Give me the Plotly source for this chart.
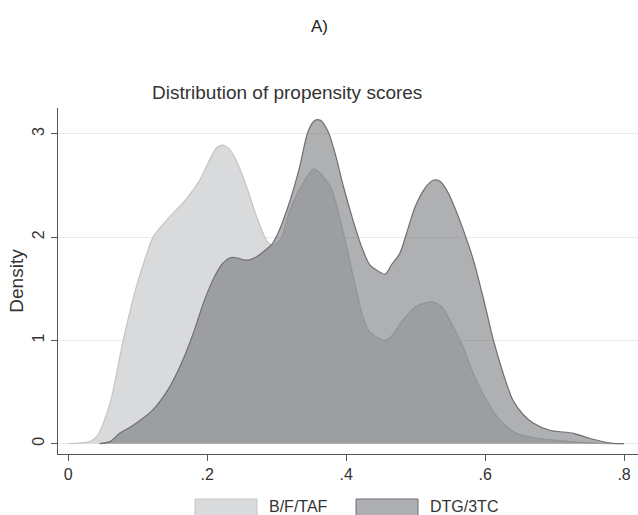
import plotly.graph_objects as go

series_names = ["B/F/TAF", "DTG/3TC"]

bftaf_x = [0.0, 0.031, 0.041, 0.06, 0.079, 0.098, 0.113, 0.122, 0.141, 0.17, 0.189, 0.213, 0.222, 0.232,
           0.242, 0.257, 0.271, 0.285, 0.293, 0.305, 0.319, 0.338, 0.3535, 0.377, 0.396, 0.41, 0.424,
           0.434, 0.456, 0.465, 0.482, 0.501, 0.518, 0.525, 0.537, 0.554, 0.568, 0.583, 0.602, 0.621,
           0.645, 0.669, 0.707, 0.765, 0.80]
bftaf_y = [0.0, 0.02, 0.07, 0.39, 1.0, 1.52, 1.84, 2.0, 2.16, 2.37, 2.55, 2.86, 2.89, 2.85,
           2.74, 2.48, 2.2, 1.97, 1.92, 1.97, 2.26, 2.52, 2.66, 2.49, 2.04, 1.62, 1.23,
           1.08, 1.0, 1.04, 1.2, 1.33, 1.37, 1.37, 1.33, 1.13, 0.94, 0.68, 0.42, 0.23,
           0.1, 0.06, 0.03, 0.003, 0.0]

dtg_x = [0.045, 0.06, 0.074, 0.089, 0.108, 0.122, 0.132, 0.146, 0.163, 0.18, 0.196, 0.213, 0.223, 0.233,
         0.242, 0.252, 0.261, 0.271, 0.283, 0.293, 0.302, 0.319, 0.333, 0.345, 0.355, 0.363, 0.374,
         0.384, 0.396, 0.41, 0.422, 0.434, 0.444, 0.456, 0.465, 0.477, 0.487, 0.499, 0.513, 0.525,
         0.535, 0.545, 0.556, 0.568, 0.583, 0.597, 0.612, 0.626, 0.64, 0.655, 0.669, 0.693, 0.727,
         0.751, 0.784, 0.80]
dtg_y = [0.0, 0.02, 0.1, 0.16, 0.25, 0.33, 0.41, 0.55, 0.78, 1.07, 1.39, 1.65, 1.75, 1.80,
         1.80, 1.78, 1.78, 1.81, 1.87, 1.93, 2.04, 2.35, 2.68, 3.02, 3.13, 3.13, 3.02,
         2.81, 2.49, 2.16, 1.91, 1.73, 1.68, 1.64, 1.73, 1.84, 2.04, 2.29, 2.47, 2.55,
         2.54, 2.45, 2.29, 2.08, 1.78, 1.42, 1.0, 0.68, 0.42, 0.28, 0.2, 0.13, 0.1,
         0.05, 0.003, 0.0]

x_tickvals = [0, 0.2, 0.4, 0.6, 0.8]
x_ticktext = ["0", ".2", ".4", ".6", ".8"]
y_tickvals = [0, 1, 2, 3]
y_ticktext = ["0", "1", "2", "3"]

fill_colors = ["#d9dadc", "rgba(99,100,104,0.51)"]
line_colors = ["#c3c4c6", "#6e6f72"]
legend_box_fill = ["#d9dadc", "#aeafb2"]
legend_box_line = ["#c3c4c6", "#6e6f72"]

fig = go.Figure()
for xs, ys, name, fc, lc in [(bftaf_x, bftaf_y, series_names[0], fill_colors[0], line_colors[0]),
                             (dtg_x, dtg_y, series_names[1], fill_colors[1], line_colors[1])]:
    fig.add_trace(go.Scatter(x=xs, y=ys, name=name, mode="lines", fill="tozeroy",
                             fillcolor=fc, line=dict(color=lc, width=1.2, shape="spline", smoothing=0.8),
                             showlegend=False))

W, H = 638, 515
L, R, T, B = 58, 0, 108, 61
pw, ph = W - L - R, H - T - B

def px_to_paper_x(px):
    return (px - L) / pw

def px_to_paper_y(py):
    return (H - B - py) / ph

shapes = []
annotations = []
box_x = [195, 356]
text_x = [267, 428]
for i, nm in enumerate(series_names):
    shapes.append(dict(type="rect", xref="paper", yref="paper",
                       x0=px_to_paper_x(box_x[i]), x1=px_to_paper_x(box_x[i] + 62),
                       y0=px_to_paper_y(522), y1=px_to_paper_y(499),
                       fillcolor=legend_box_fill[i], line=dict(color=legend_box_line[i], width=1)))
    annotations.append(dict(text=nm, xref="paper", yref="paper",
                            x=px_to_paper_x(text_x[i]), y=px_to_paper_y(506),
                            xanchor="left", yanchor="middle", showarrow=False,
                            font=dict(size=16, color="#333333")))

annotations.append(dict(text="A)", xref="paper", yref="paper", x=px_to_paper_x(319), y=px_to_paper_y(27),
                        xanchor="center", yanchor="middle", showarrow=False,
                        font=dict(size=17, color="#222222")))
annotations.append(dict(text="Distribution of propensity scores", xref="paper", yref="paper",
                        x=px_to_paper_x(287), y=px_to_paper_y(93),
                        xanchor="center", yanchor="middle", showarrow=False,
                        font=dict(size=19, color="#333333")))

fig.update_layout(
    width=W, height=H,
    margin=dict(l=L, r=R, t=T, b=B, pad=0),
    paper_bgcolor="white", plot_bgcolor="white",
    font=dict(family="Liberation Sans, Arial, sans-serif", color="#333333"),
    shapes=shapes, annotations=annotations,
    showlegend=False,
)
fig.update_xaxes(range=[-0.0148, 0.82], tickvals=x_tickvals, ticktext=x_ticktext,
                 showgrid=False, zeroline=False, showline=True, linecolor="#555555", linewidth=1.3,
                 ticks="outside", ticklen=6, tickcolor="#555555", tickfont=dict(size=16))
fig.update_yaxes(range=[-0.1, 3.25], tickvals=y_tickvals, ticktext=y_ticktext,
                 showgrid=True, gridcolor="#ebebeb", gridwidth=1.2, zeroline=False,
                 showline=True, linecolor="#555555", linewidth=1.3,
                 ticks="outside", ticklen=6, tickcolor="#555555", tickangle=-90, tickfont=dict(size=16),
                 title=dict(text="Density", font=dict(size=19), standoff=1))

fig.write_html("out.html")
